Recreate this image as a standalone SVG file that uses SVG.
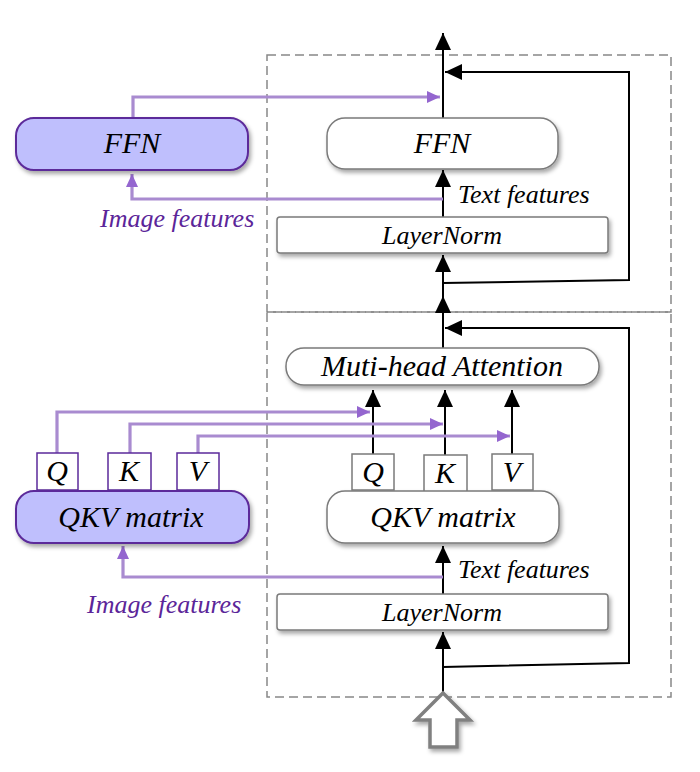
<svg xmlns="http://www.w3.org/2000/svg" width="700" height="772" viewBox="0 0 700 772">
<style>
.lbl{font-family:"Liberation Serif","Times New Roman",serif;font-style:italic;fill:#000;text-anchor:middle}
.big{font-size:30px}
.sm{font-size:26px}
.img{font-family:"Liberation Serif","Times New Roman",serif;font-style:italic;font-size:26px;fill:#5b2599}
.wbox{fill:#fff;stroke:#7a7a7a;stroke-width:1.5}
.pbox{fill:#bfbffd;stroke:#5b2a9a;stroke-width:2}
.pq{fill:#fff;stroke:#5b2a9a;stroke-width:1.5}
.gq{fill:#fff;stroke:#7a7a7a;stroke-width:1.5}
.dash{fill:none;stroke:#888;stroke-width:1.5;stroke-dasharray:9 5}
.blk{fill:none;stroke:#000;stroke-width:2}
.pur{fill:none;stroke:#a98bd0;stroke-width:3.2}
</style>
<defs>
<filter id="sh" x="-10%" y="-20%" width="125%" height="150%">
<feDropShadow dx="2" dy="3" stdDeviation="2" flood-color="#000" flood-opacity="0.35"/>
</filter>
<marker id="ab" markerUnits="userSpaceOnUse" markerWidth="18" markerHeight="16" refX="17" refY="8" orient="auto">
<path d="M0,0 L17,8 L0,16 z" fill="#000"/>
</marker>
<marker id="ap" markerUnits="userSpaceOnUse" markerWidth="14" markerHeight="12" refX="13" refY="6" orient="auto">
<path d="M0,0 L13,6 L0,12 z" fill="#9466cf"/>
</marker>
</defs>

<g id="block-ffn">
<rect class="dash" x="267" y="55" width="404" height="257"/>
</g>
<g id="block-attn">
<rect class="dash" x="267" y="312" width="404" height="385"/>
</g>

<g id="connectors">
<line class="blk" x1="443" y1="118" x2="443" y2="33" marker-end="url(#ab)"/>
<polyline class="blk" points="443,283 629,280 629,72 445,72" marker-end="url(#ab)"/>
<line class="blk" x1="443" y1="217" x2="443" y2="170" marker-end="url(#ab)"/>
<line class="blk" x1="443" y1="348" x2="443" y2="255" marker-end="url(#ab)"/>
<line class="blk" x1="443" y1="330" x2="443" y2="296" marker-end="url(#ab)"/>
<polyline class="blk" points="443,667 629,663 629,328 445,328" marker-end="url(#ab)"/>
<line class="blk" x1="443" y1="594" x2="443" y2="546" marker-end="url(#ab)"/>
<line class="blk" x1="443" y1="692" x2="443" y2="632" marker-end="url(#ab)"/>
<line class="blk" x1="373" y1="454" x2="373" y2="390" marker-end="url(#ab)"/>
<line class="blk" x1="445" y1="455" x2="445" y2="390" marker-end="url(#ab)"/>
<line class="blk" x1="512" y1="454" x2="512" y2="390" marker-end="url(#ab)"/>
<polyline class="pur" points="133,118 133,97 440,97" marker-end="url(#ap)"/>
<polyline class="pur" points="443,199 132,199 132,174" marker-end="url(#ap)"/>
<polyline class="pur" points="57,453 57,412 370,412" marker-end="url(#ap)"/>
<polyline class="pur" points="130,453 130,424 443,424" marker-end="url(#ap)"/>
<polyline class="pur" points="198,453 198,436 510,436" marker-end="url(#ap)"/>
<polyline class="pur" points="443,577 123,577 123,546" marker-end="url(#ap)"/>
</g>

<g id="ffn-text">
<rect class="wbox" x="327" y="118" width="231" height="51" rx="18" filter="url(#sh)"/>
<text class="lbl big" x="442" y="153">FFN</text>
</g>
<g id="layernorm-top">
<rect class="wbox" x="277" y="217" width="331" height="36" rx="3" filter="url(#sh)"/>
<text class="lbl sm" x="442" y="244">LayerNorm</text>
</g>
<g id="ffn-image">
<rect class="pbox" x="16" y="118" width="232" height="52" rx="18" filter="url(#sh)"/>
<text class="lbl big" x="132" y="153">FFN</text>
</g>
<g id="label-text-top"><text class="lbl sm" x="458" y="203" style="text-anchor:start">Text features</text></g>
<g id="label-image-top"><text class="img" x="100" y="227">Image features</text></g>

<g id="mha">
<rect class="wbox" x="286" y="348" width="313" height="37" rx="18" filter="url(#sh)"/>
<text class="lbl big" x="442" y="376">Muti-head Attention</text>
</g>
<g id="q-text"><rect class="gq" x="352" y="454" width="42" height="36"/><text class="lbl big" x="373" y="482">Q</text></g>
<g id="k-text"><rect class="gq" x="424" y="455" width="43" height="37"/><text class="lbl big" x="445" y="483">K</text></g>
<g id="v-text"><rect class="gq" x="492" y="454" width="41" height="36"/><text class="lbl big" x="512" y="482">V</text></g>
<g id="qkv-text">
<rect class="wbox" x="327" y="491" width="232" height="52" rx="18" filter="url(#sh)"/>
<text class="lbl big" x="443" y="527">QKV matrix</text>
</g>
<g id="layernorm-bottom">
<rect class="wbox" x="277" y="594" width="331" height="36" rx="3" filter="url(#sh)"/>
<text class="lbl sm" x="442" y="621">LayerNorm</text>
</g>
<g id="label-text-bottom"><text class="lbl sm" x="458" y="578" style="text-anchor:start">Text features</text></g>

<g id="q-image"><rect class="pq" x="37" y="453" width="41" height="37"/><text class="lbl big" x="57" y="481">Q</text></g>
<g id="k-image"><rect class="pq" x="108" y="453" width="43" height="37"/><text class="lbl big" x="129" y="481">K</text></g>
<g id="v-image"><rect class="pq" x="177" y="453" width="42" height="37"/><text class="lbl big" x="198" y="481">V</text></g>
<g id="qkv-image">
<rect class="pbox" x="16" y="491" width="233" height="52" rx="18" filter="url(#sh)"/>
<text class="lbl big" x="131" y="527">QKV matrix</text>
</g>
<g id="label-image-bottom"><text class="img" x="87" y="613">Image features</text></g>

<g id="input-arrow">
<path d="M443,693 L470,720 L457,720 L457,747 L430,747 L430,720 L416,720 z" fill="#fff" stroke="#808080" stroke-width="3.5" stroke-linejoin="miter" filter="url(#sh)"/>
</g>
</svg>
